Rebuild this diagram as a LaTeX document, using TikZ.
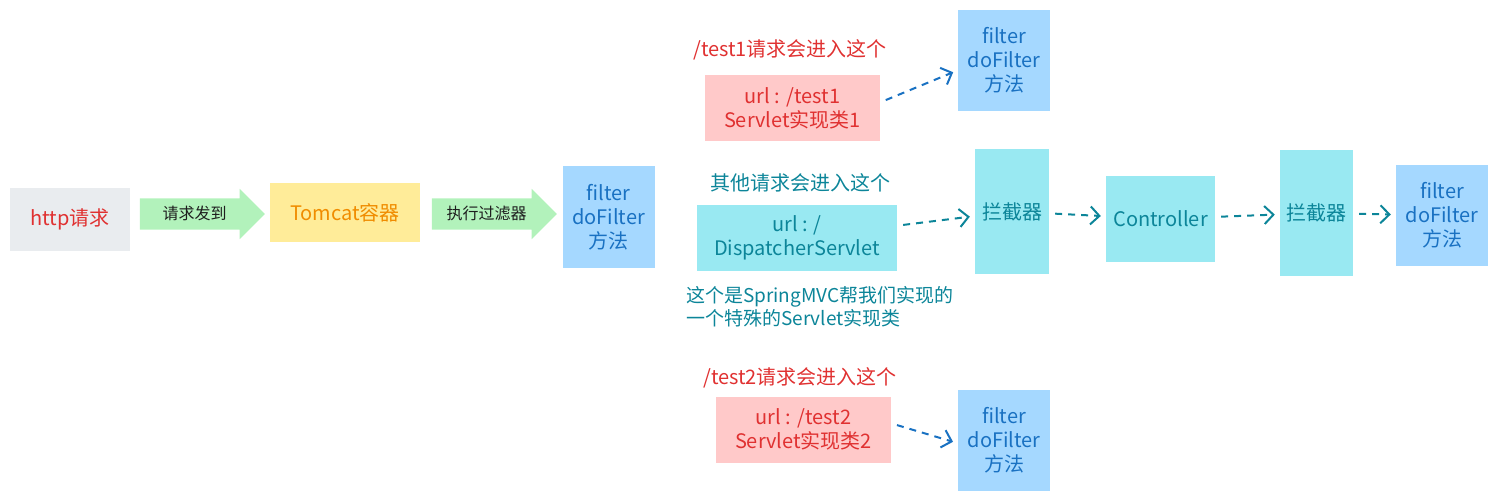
\documentclass[tikz,border=0pt]{standalone}
\usepackage{fontspec}
\setmainfont{Noto Sans CJK SC}
\usepackage{tikz}
\usetikzlibrary{
  arrows.meta,
  shapes.arrows,
  chains,
  scopes
}

\definecolor{greyfill}{HTML}{E9ECEF}
\definecolor{greenfill}{HTML}{B2F2BB}
\definecolor{yellowfill}{HTML}{FFEC99}
\definecolor{bluefill}{HTML}{A5D8FF}
\definecolor{pinkfill}{HTML}{FFC9C9}
\definecolor{cyanfill}{HTML}{99E9F2}
\definecolor{redtext}{HTML}{E03131}
\definecolor{orangetext}{HTML}{F08C00}
\definecolor{bluetext}{HTML}{1971C2}
\definecolor{tealtext}{HTML}{0C8599}
\definecolor{darktext}{HTML}{1E1E1E}

\begin{document}
\begin{tikzpicture}[
      x=1pt, y=-1pt,
      flatbox/.style={
         rectangle,
         inner sep=0pt,
         align=center,
         font=\fontsize{20}{24}\selectfont
      },
      filterbox/.style={
         flatbox,
         fill=bluefill,
         text=bluetext,
         minimum width=92pt,
         minimum height=101pt
      },
      servletbox/.style={
         flatbox,
         fill=pinkfill,
         text=redtext,
         minimum width=175pt,
         minimum height=66pt
      },
      mvcbox/.style={
         flatbox,
         fill=cyanfill,
         text=tealtext
      },
      fat arrow/.style={
         single arrow,
         fill=greenfill,
         text=darktext,
         minimum height=125pt,
         text height=13pt,
         text depth=2pt,
         inner ysep=8pt,
         inner xsep=0pt,
         single arrow head extend=9.5pt,
         single arrow head indent=0pt,
         font=\fontsize{16}{19}\selectfont
      },
      remark/.style={
         align=left,
         inner sep=0pt,
         font=\fontsize{19}{23}\selectfont
      },
      dash tip/.style={
         -{Straight Barb[length=9pt,width=18pt]},
         line width=2pt,
         dash pattern=on 7pt off 6pt,
         shorten >=5pt,
         shorten <=6pt
      },
    ]
    % main row
    \node (n21) [flatbox, fill=greyfill, text=redtext, minimum width=120pt, minimum height=63pt] at (70,219.5) {http请求};
    \node (n22) [fat arrow] at (194.5,214) {请求发到};
    \node (n23) [flatbox, fill=yellowfill, text=orangetext, minimum width=150pt, minimum height=59pt] at (345,212.5) {Tomcat容器};
    \node (n24) [fat arrow] at (486.5,214) {执行过滤器};
    \node (n25) [filterbox] at (608.5,217) {filter\\doFilter\\方法};
    \node (l26) [flatbox, text=tealtext] at (800,183) {其他请求会进入这个};
    \node (n26) [mvcbox, minimum width=200pt, minimum height=66pt] at (797,238) {url : /\\DispatcherServlet};
    \node (n27) [mvcbox, minimum width=74pt, minimum height=125pt] at (1012,211.5) {拦截器};
    \node (n28) [mvcbox, minimum width=109pt, minimum height=86pt] at (1160.5,219) {Controller};
    \node (n29) [mvcbox, minimum width=73pt, minimum height=126pt] at (1316.5,213) {拦截器};
    \node (n210) [filterbox] at (1442,215.5) {filter\\doFilter\\方法};
    \node (m26) [remark, text=tealtext, anchor=north west] at (686,286) {这个是SpringMVC帮我们实现的\\一个特殊的Servlet实现类};
    % /test1
    \node (l16) [flatbox, text=redtext] at (790,50) {/test1请求会进入这个};
    \node (n16) [servletbox] at (792.5,108.5) {url : /test1\\Servlet实现类1};
    \node (n17) [filterbox] at (1004,60.5) {filter\\doFilter\\方法};
    % /test2
    \node (l36) [flatbox, text=redtext] at (800,378) {/test2请求会进入这个};
    \node (n36) [servletbox] at (803.5,429.5) {url : /test2\\Servlet实现类2};
    \node (n37) [filterbox] at (1004,440) {filter\\doFilter\\方法};

  \draw [dash tip, draw=bluetext] (n16.4) -- (n17.192);
  \draw [dash tip, draw=bluetext] (n36.4) -- (n37.184);
  { [start chain]
       \chainin (n26);
       \chainin (n27)    [join=by {dash tip, draw=tealtext}];
  }
  { [start chain]
       \chainin (n27);
       \chainin (n28)    [join=by {dash tip, draw=tealtext}];
  }
  { [start chain]
       \chainin (n28);
       \chainin (n29)    [join=by {dash tip, draw=tealtext}];
  }
  { [start chain]
       \chainin (n29);
       \chainin (n210)   [join=by {dash tip, draw=tealtext}];
  }
  \useasboundingbox (0,0) rectangle (1497,500);
\end{tikzpicture}
\end{document}
